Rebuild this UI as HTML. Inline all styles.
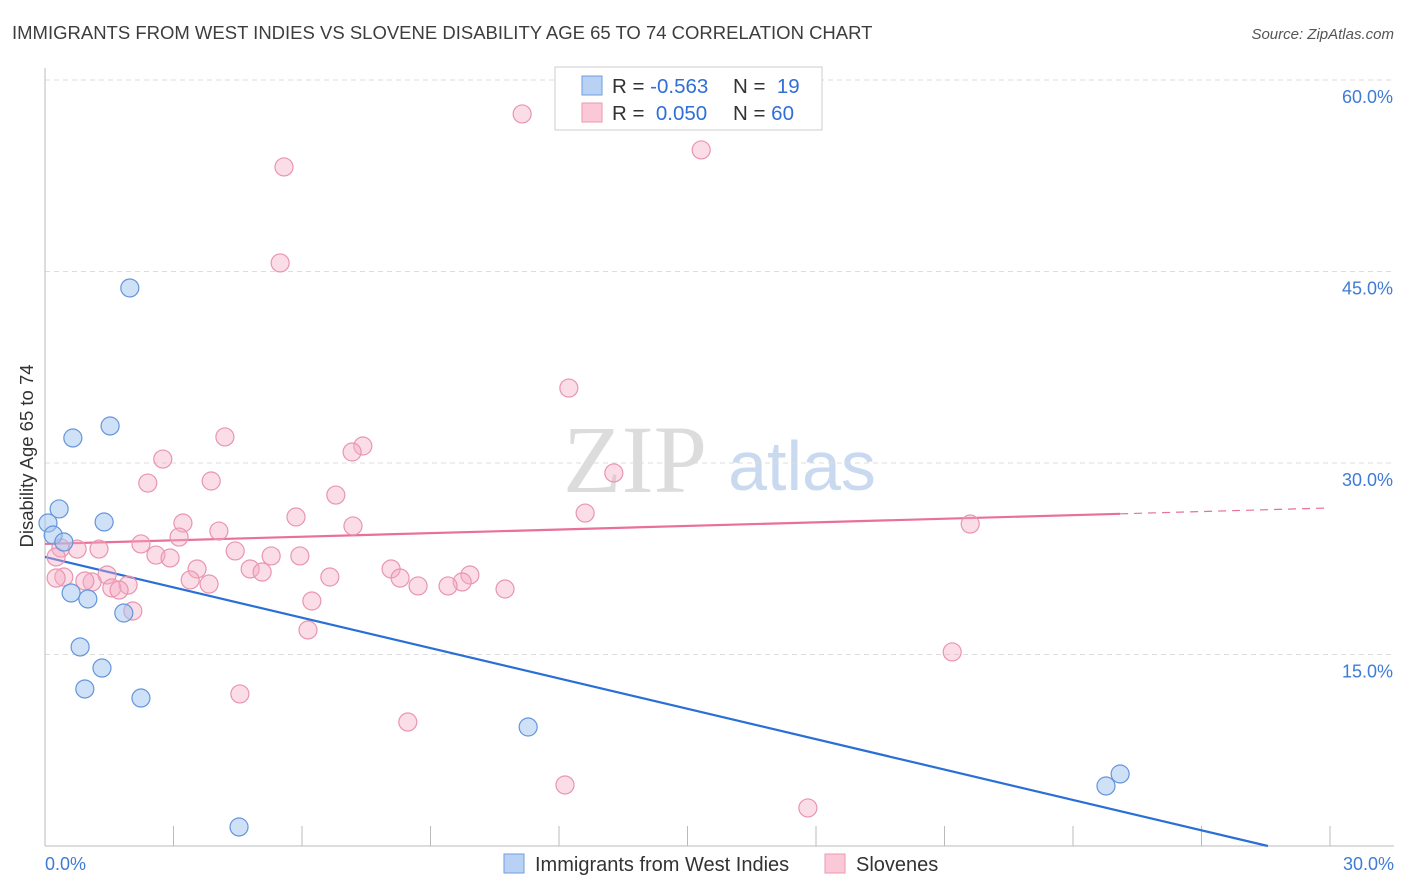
<!DOCTYPE html>
<html><head><meta charset="utf-8"><style>
body{margin:0;background:#fff;font-family:"Liberation Sans",sans-serif;}
svg{display:block}
</style></head><body>
<svg id="c" width="1406" height="892">
<text x="12" y="39" font-size="18.5" fill="#3d3d3d">IMMIGRANTS FROM WEST INDIES VS SLOVENE DISABILITY AGE 65 TO 74 CORRELATION CHART</text>
<text x="1394" y="39" font-size="15" font-style="italic" fill="#555" text-anchor="end">Source: ZipAtlas.com</text>
<text x="33" y="456" font-size="18.5" fill="#333" text-anchor="middle" transform="rotate(-90 33 456)">Disability Age 65 to 74</text>
<g><text x="635" y="492" font-size="96" font-family="Liberation Serif,serif" fill="#dcdcdc" text-anchor="middle">ZIP</text><text x="802" y="490" font-size="70" fill="#c9d9f0" text-anchor="middle">atlas</text></g>
<g id="grid"></g><g id="axes"></g><g id="lines"></g><g id="pts"></g>
<g>
<rect x="555" y="67" width="267" height="63" fill="#fff" stroke="#ccc"/>
<rect x="582" y="76" width="20" height="19" fill="#b9d1f3" stroke="#6f9ee0"/>
<rect x="582" y="103" width="20" height="19" fill="#fbc8d8" stroke="#ec97b1"/>
<text x="612" y="93" font-size="20.5" fill="#333">R = <tspan fill="#2f6fd6">-0.563</tspan></text><text x="733" y="93" font-size="20.5" fill="#333">N = <tspan fill="#2f6fd6">&#160;19</tspan></text>
<text x="612" y="120" font-size="20.5" fill="#333">R = <tspan fill="#2f6fd6">&#160;0.050</tspan></text><text x="733" y="120" font-size="20.5" fill="#333">N = <tspan fill="#2f6fd6">60</tspan></text>
</g>
<g>
<rect x="504" y="854" width="20" height="19" fill="#b9d1f3" stroke="#6f9ee0"/>
<text x="535" y="871" font-size="20" fill="#333">Immigrants from West Indies</text>
<rect x="825" y="854" width="20" height="19" fill="#fbc8d8" stroke="#ec97b1"/>
<text x="856" y="871" font-size="20" fill="#333">Slovenes</text>
</g>
</svg>
<script>
const blueX=[1.98,0.65,1.52,0.33,0.07,1.38,0.19,0.44,0.61,1.00,1.84,0.82,1.33,0.93,2.24,11.28,25.10,24.77,4.53];
const blueY=[43.71,31.96,32.90,26.40,25.30,25.38,24.36,23.81,19.82,19.35,18.25,15.59,13.94,12.30,11.59,9.32,5.64,4.70,1.49];
const pinkX=[11.14,15.32,5.58,5.49,12.23,4.20,7.42,7.17,2.75,13.28,2.40,3.88,6.79,12.61,5.86,3.22,7.19,21.60,4.06,3.13,2.24,0.37,0.75,1.26,4.44,5.28,5.95,2.59,2.92,0.26,3.55,8.08,4.79,5.07,9.92,9.74,6.65,0.44,1.45,0.26,8.29,3.39,1.10,0.93,8.71,9.41,3.83,10.74,1.94,1.56,1.73,6.23,2.05,6.14,21.18,4.55,8.47,12.14,17.81];
const pinkY=[57.34,54.52,53.19,45.67,35.87,32.04,31.33,30.86,30.31,29.22,28.43,28.59,27.49,26.08,25.77,25.30,25.07,25.22,24.67,24.20,23.66,23.34,23.26,23.26,23.11,22.72,22.72,22.79,22.56,22.64,21.70,21.70,21.70,21.46,21.23,20.68,21.07,21.07,21.23,20.99,20.99,20.84,20.68,20.76,20.37,20.37,20.52,20.13,20.44,20.21,20.05,19.19,18.41,16.92,15.20,11.91,9.71,4.78,2.98];
const yTicks=[15,30,45,60];
const yTickLabels=["15.0%","30.0%","45.0%","60.0%"];
const xTicks=[0,3,6,9,12,15,18,21,24,27,30];
const blueTrend=[22.64,-0.793]; // intercept, slope
const pinkTrend=[23.66,0.094];
const pinkSolidEnd=25.1;

const X=v=>45+v*1285/30, Y=v=>846-v*766/60;
const NS="http://www.w3.org/2000/svg";
function mk(tag,parent,attrs){const e=document.createElementNS(NS,tag);for(const k in attrs)e.setAttribute(k,attrs[k]);document.getElementById(parent).appendChild(e);return e;}
yTicks.forEach((t,i)=>{
 const g=mk('line','grid',{x1:45,x2:1394,y1:Y(t),y2:Y(t),stroke:'#ddd','stroke-dasharray':'5,4'});
 
 
 const l=mk('text','axes',{x:1393,y:Y(t)+23,'font-size':18,fill:'#3f7bd6','text-anchor':'end'});
 l.textContent=yTickLabels[i];
 
 
});
const ax=mk('line','axes',{x1:45,x2:45,y1:68,y2:846,stroke:'#bbb'});


const bx=mk('line','axes',{x1:45,x2:1394,y1:846,y2:846,stroke:'#bbb'});


xTicks.forEach(t=>{const e=mk('line','axes',{x1:X(t),x2:X(t),y1:826,y2:846,stroke:'#bbb'});
 
 });
const x0=mk('text','axes',{x:45,y:870,'font-size':18,fill:'#3f7bd6'});x0.textContent='0.0%';


const x1=mk('text','axes',{x:1394,y:870,'font-size':18,fill:'#3f7bd6','text-anchor':'end'});x1.textContent='30.0%';


const bEnd=-blueTrend[0]/blueTrend[1];
const bl=mk('line','lines',{x1:X(0),y1:Y(blueTrend[0]),x2:X(bEnd),y2:Y(0),stroke:'#2a6fd6','stroke-width':2.2});


const pl=mk('line','lines',{x1:X(0),y1:Y(pinkTrend[0]),x2:X(pinkSolidEnd),y2:Y(pinkTrend[0]+pinkTrend[1]*pinkSolidEnd),stroke:'#e8709a','stroke-width':2.2});


const pd=mk('line','lines',{x1:X(pinkSolidEnd),y1:Y(pinkTrend[0]+pinkTrend[1]*pinkSolidEnd),x2:X(30),y2:Y(pinkTrend[0]+pinkTrend[1]*30),stroke:'#e8709a','stroke-width':1.2,'stroke-dasharray':'8,6'});


pinkX.forEach((v,i)=>{const c=mk('circle','pts',{cx:X(v),cy:Y(pinkY[i]),r:9,fill:'rgba(245,170,195,0.4)',stroke:'#e995b0','stroke-width':1.2});
 
 });
blueX.forEach((v,i)=>{const c=mk('circle','pts',{cx:X(v),cy:Y(blueY[i]),r:9,fill:'rgba(160,195,240,0.5)',stroke:'#6495dc','stroke-width':1.2});
 
 });
</script>
</body></html>
